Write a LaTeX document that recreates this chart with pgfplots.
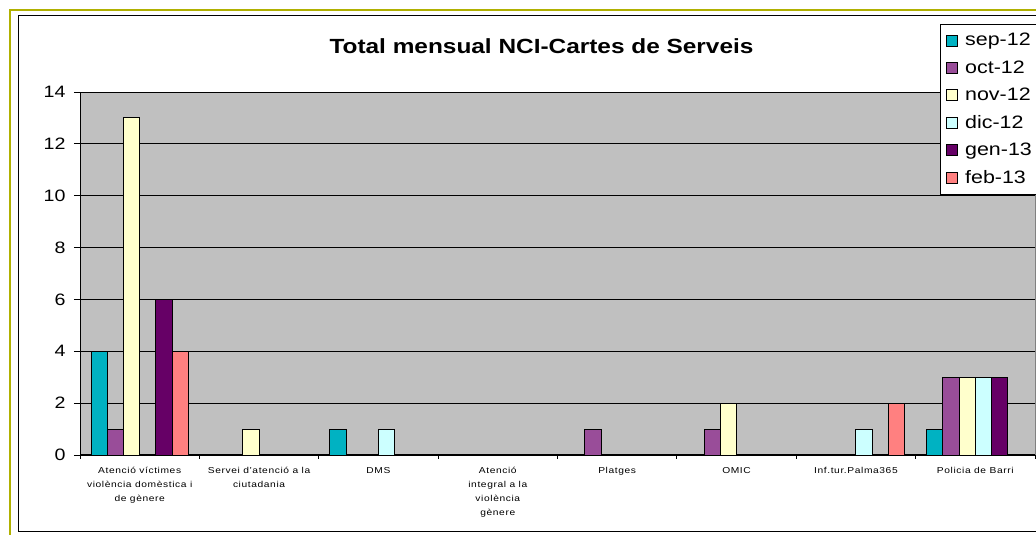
\documentclass[border=0pt]{standalone}
\usepackage{pgfplots}
\pgfplotsset{compat=1.18}
\usepackage{fontspec}
\setmainfont{Liberation Sans}[FakeStretch=1.19]
\definecolor{cSep}{RGB}{0,178,194}
\definecolor{cOct}{RGB}{153,77,153}
\definecolor{cNov}{RGB}{255,255,204}
\definecolor{cDic}{RGB}{204,255,255}
\definecolor{cGen}{RGB}{102,0,102}
\definecolor{cFeb}{RGB}{255,128,128}
\definecolor{silverbg}{RGB}{192,192,192}
\definecolor{olivefr}{RGB}{176,176,0}
\begin{document}
\begin{tikzpicture}[x=1pt,y=1pt]
\path[use as bounding box] (0,0) rectangle (1036,535);
\clip (0,0) rectangle (1036,535);
\fill[white] (0,0) rectangle (1036,535);
\draw[olivefr, line width=2pt] (10,-20) -- (10,525) -- (1060,525);
\draw[black, line width=1pt] (1060,3) -- (18,3) -- (18,519) -- (1060,519);
\node[anchor=base, font=\bfseries\fontsize{20.5}{20.5}\selectfont] at (541.5,481) {Total mensual NCI-Cartes de Serveis};
\begin{axis}[
  at={(80pt,80pt)}, anchor=south west,
  scale only axis, width=955pt, height=363pt,
  xmin=-0.5, xmax=7.5, ymin=0, ymax=14,
  ytick={0,2,...,14},
  xtick={0,...,7},
  minor xtick={-0.5,0.5,...,7.5},
  xticklabels={{Atenció víctimes\\violència domèstica i\\de gènere},
    {Servei d'atenció a la\\ciutadania},
    {DMS},
    {Atenció\\integral a la\\violència\\gènere},
    {Platges},{OMIC},{Inf.tur.Palma365},{Policia de Barri}},
  xticklabel style={align=center, font=\addfontfeature{LetterSpace=7}\fontsize{8.6}{14}\selectfont, yshift=-3pt},
  yticklabel style={font=\fontsize{16.5}{16.5}\selectfont, xshift=-5pt},
  /pgf/number format/assume math mode=true,
  tick align=outside,
  major tick length=6pt,
  minor tick length=4pt,
  every major x tick/.append style={draw=none},
  tick style={black, line width=0.8pt},
  axis x line*=bottom, axis y line*=left,
  axis line style={black, line width=1pt, -},
  axis background/.style={fill=silverbg, draw=gray},
  ymajorgrids,
  grid style={black, line width=0.8pt},
  ybar=0pt, bar width=16.2pt,
  every axis plot/.append style={draw=black, line width=0.9pt},
  legend style={at={(0.9005,1.1873)}, anchor=north west, draw=black, line width=0.8pt,
    font=\fontsize{18}{18}\selectfont, row sep=9.3pt, inner xsep=6pt, inner ysep=7pt,
    cells={anchor=west}, /tikz/every odd column/.style={column sep=5pt}},
  legend image code/.code={\draw[#1, line width=0.8pt] (0pt,-5.5pt) rectangle (11pt,5.5pt);},
]
\addplot[fill=cSep] coordinates {(0,4) (2,1) (7,1)};
\addplot[fill=cOct] coordinates {(0,1) (4,1) (5,1) (7,3)};
\addplot[fill=cNov] coordinates {(0,13) (1,1) (5,2) (7,3)};
\addplot[fill=cDic] coordinates {(2,1) (6,1) (7,3)};
\addplot[fill=cGen] coordinates {(0,6) (7,3)};
\addplot[fill=cFeb] coordinates {(0,4) (6,2)};
\legend{sep-12,oct-12,nov-12,dic-12,gen-13,feb-13}
\end{axis}
\end{tikzpicture}
\end{document}
